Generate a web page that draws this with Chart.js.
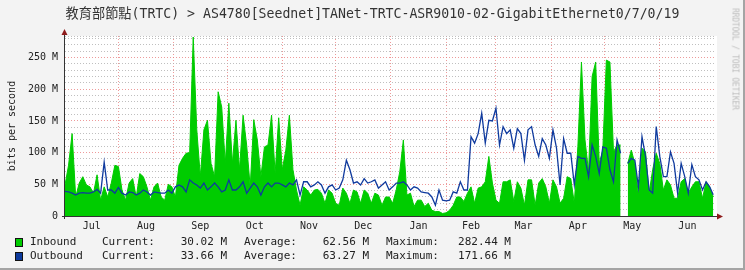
<!DOCTYPE html>
<html>
<head>
<meta charset="utf-8">
<script src="https://cdn.jsdelivr.net/npm/chart.js@4.4.1/dist/chart.umd.min.js"></script>
<style>
  html, body { margin: 0; padding: 0; }
  body { width: 745px; height: 270px; background: #f3f3f3; position: relative; overflow: hidden;
         font-family: "DejaVu Sans Mono", monospace; color: #222; }
  .frame { position: absolute; left: 0; top: 0; width: 743px; height: 268px;
           border-right: 2px solid #a4a4a4; border-bottom: 2px solid #a4a4a4; }
  #chart { position: absolute; left: 0; top: 0; }
  .title { position: absolute; left: 0; top: 6px; width: 745px; text-align: center; font-size: 13.2px;
           line-height: 16px; font-family: "DejaVu Sans Mono", "Noto Sans CJK TC", monospace; color: #333; }
  .ylabel { position: absolute; left: 11px; top: 126px; font-size: 10px; white-space: nowrap;
            transform: translate(-50%, -50%) rotate(-90deg); }
  .mark { position: absolute; left: 735px; top: 59px; font-size: 8px; color: #bdbdbd; white-space: nowrap;
          transform: translate(-50%, -50%) rotate(90deg); letter-spacing: -0.2px; }
  .lg { position: absolute; font-size: 11px; line-height: 12px; white-space: nowrap; }
  .num { text-align: right; }
  .box { position: absolute; width: 6px; height: 7px; border: 1px solid #111; }
</style>
</head>
<body>
<div class="frame"></div>
<canvas id="chart" width="745" height="270"></canvas>
<div class="title">教育部節點(TRTC) &gt; AS4780[Seednet]TANet-TRTC-ASR9010-02-GigabitEthernet0/7/0/19</div>
<div class="ylabel">bits per second</div>
<div class="mark">RRDTOOL / TOBI OETIKER</div>
<div id="legend"></div>
<script>
// one sample every 2 days, starting early July; values in Mbit/s
const stepDays = 2;
const inbound = [
  49, 80, 130, 30, 52, 62, 49, 46, 36, 65, 25, 46, 30, 52, 80, 78, 41, 25, 52, 59,
  30, 67, 62, 46, 25, 46, 52, 30, 25, 50, 46, 30, 80, 91, 99, 100, 282.44, 136, 62, 136,
  151, 83, 62, 196, 172, 83, 178, 83, 151, 73, 159, 112, 46, 152, 120, 62, 109, 112, 159, 67,
  155, 73, 104, 159, 73, 41, 17, 46, 41, 33, 41, 42, 36, 20, 41, 36, 20, 17, 44, 36,
  20, 41, 38, 20, 41, 36, 20, 36, 33, 17, 30, 30, 20, 41, 70, 120, 33, 36, 15, 25,
  25, 15, 20, 9, 7, 7, 4, 5, 9, 17, 30, 30, 23, 36, 46, 20, 44, 46, 54, 94,
  52, 25, 20, 54, 54, 57, 23, 54, 44, 17, 57, 57, 17, 52, 59, 46, 20, 57, 46, 20,
  28, 62, 59, 20, 110, 243, 120, 70, 220, 243, 83, 104, 246, 243, 101, 112, 112, null, 83, 104,
  83, 33, 107, 101, 36, 73, 99, 83, 41, 57, 49, 28, 28, 54, 59, 36, 46, 54, 54, 28,
  54, 46, 30.02
];
const outbound = [
  39, 38, 36, 33, 36, 37, 36, 36, 38, 42, 36, 85, 41, 41, 36, 45, 36, 33, 38, 37,
  33, 36, 41, 38, 33, 38, 37, 36, 36, 41, 36, 46, 49, 46, 38, 57, 52, 49, 44, 52,
  41, 46, 52, 46, 38, 41, 57, 41, 41, 46, 54, 36, 44, 52, 46, 33, 46, 52, 46, 52,
  52, 49, 46, 52, 49, 57, 33, 54, 54, 46, 49, 54, 49, 36, 46, 49, 41, 44, 57, 88,
  73, 52, 54, 49, 59, 52, 54, 57, 44, 49, 54, 41, 46, 52, 52, 54, 49, 41, 46, 44,
  38, 37, 36, 30, 17, 41, 25, 24, 25, 38, 36, 54, 41, 41, 125, 115, 130, 162, 115, 151,
  150, 170, 112, 141, 130, 136, 107, 138, 130, 88, 136, 141, 112, 94, 122, 112, 91, 136, 107, 49,
  122, 99, 99, 49, 94, 91, 91, 62, 112, 94, 67, 109, 107, 73, 54, 120, 99, null, 83, 91,
  88, 46, 125, 94, 41, 36, 141, 94, 62, 62, 101, 83, 36, 83, 62, 36, 81, 62, 57, 41,
  54, 46, 33.66
];
const monthLabels = ['Jul', 'Aug', 'Sep', 'Oct', 'Nov', 'Dec', 'Jan', 'Feb', 'Mar', 'Apr', 'May', 'Jun'];
const monthStarts = [30, 61, 91, 122, 152, 183, 214, 242, 273, 303, 334];
const totalDays = 365;
const yTicks = [0, 50, 100, 150, 200, 250];

const legendRows = [
  { name: 'Inbound', color: '#00cc00', cur: '30.02 M', avg: '62.56 M', max: '282.44 M' },
  { name: 'Outbound', color: '#0d3a9c', cur: '33.66 M', avg: '63.27 M', max: '171.66 M' },
];

const bounds = [0, ...monthStarts, totalDays];
const monthMids = monthLabels.map((m, i) => (bounds[i] + bounds[i + 1]) / 2);
const startSet = new Set(monthStarts);
const labelAt = new Map(monthMids.map((v, i) => [v, monthLabels[i]]));

const toPoints = (arr) => arr.map((v, i) => ({ x: i * stepDays, y: v }));

const frame = {
  id: 'frame',
  beforeDraw(chart) {
    const { ctx, chartArea: a } = chart;
    ctx.save();
    ctx.fillStyle = '#ffffff';
    ctx.fillRect(a.left, a.top, a.right - a.left + 2, a.bottom - a.top);
    ctx.restore();
  },
  afterDraw(chart) {
    const { ctx, chartArea: a } = chart;
    ctx.save();
    ctx.strokeStyle = '#333';
    ctx.lineWidth = 1;
    ctx.beginPath();
    ctx.moveTo(a.left - 3, a.bottom + 0.5);
    ctx.lineTo(a.right + 3, a.bottom + 0.5);
    ctx.moveTo(a.left - 0.5, a.bottom + 3);
    ctx.lineTo(a.left - 0.5, a.top - 4);
    ctx.stroke();
    ctx.fillStyle = '#8e1b1b';
    ctx.beginPath();
    ctx.moveTo(a.left - 3.5, a.top - 1);
    ctx.lineTo(a.left + 2.5, a.top - 1);
    ctx.lineTo(a.left - 0.5, a.top - 7);
    ctx.closePath();
    ctx.fill();
    ctx.beginPath();
    ctx.moveTo(a.right + 2, a.bottom - 2.5);
    ctx.lineTo(a.right + 2, a.bottom + 3.5);
    ctx.lineTo(a.right + 8, a.bottom + 0.5);
    ctx.closePath();
    ctx.fill();
    ctx.restore();
  },
};

new Chart(document.getElementById('chart'), {
  type: 'line',
  data: {
    datasets: [
      {
        label: 'Outbound',
        data: toPoints(outbound),
        borderColor: '#0f3a9e',
        borderWidth: 1.3,
        fill: false,
        pointRadius: 0,
        tension: 0,
        order: 0,
      },
      {
        label: 'Inbound',
        data: toPoints(inbound),
        borderColor: '#00cc00',
        backgroundColor: '#00cc00',
        borderWidth: 1,
        fill: 'origin',
        pointRadius: 0,
        tension: 0,
        order: 1,
      },
    ],
  },
  options: {
    responsive: false,
    animation: false,
    events: [],
    layout: { padding: { top: 36, right: 30, bottom: 36, left: 0 } },
    plugins: { legend: { display: false }, tooltip: { enabled: false } },
    scales: {
      x: {
        type: 'linear',
        min: 0,
        max: totalDays,
        afterBuildTicks: (scale) => {
          scale.ticks = [...monthStarts, ...monthMids].sort((a, b) => a - b).map((v) => ({ value: v }));
        },
        afterFit: (scale) => { scale.height = 18; },
        ticks: {
          autoSkip: false,
          maxRotation: 0,
          padding: 4,
          color: '#222',
          font: { family: 'DejaVu Sans Mono', size: 10 },
          callback: (v) => labelAt.get(v) || '',
        },
        grid: {
          drawTicks: false,
          color: (ctx) => (ctx.tick && startSet.has(ctx.tick.value) ? 'rgba(232,120,120,0.75)' : 'rgba(0,0,0,0)'),
        },
        border: { display: false, dash: [1, 2] },
      },
      y: {
        min: 0,
        max: 284,
        afterBuildTicks: (scale) => {
          const t = [];
          for (let v = 0; v <= 280; v += 10) t.push({ value: v });
          t.push({ value: 284 });
          scale.ticks = t;
        },
        afterFit: (scale) => { scale.width = 65; },
        ticks: {
          autoSkip: false,
          padding: 7,
          color: '#222',
          font: { family: 'DejaVu Sans Mono', size: 10 },
          callback: (v) => (yTicks.includes(v) ? (v === 0 ? '0' : v + ' M') : ''),
        },
        grid: {
          drawTicks: false,
          color: (ctx) => {
            const v = ctx.tick ? ctx.tick.value : -1;
            return yTicks.includes(v) ? 'rgba(232,120,120,0.75)' : 'rgba(175,175,175,0.8)';
          },
        },
        border: { display: false, dash: [1, 2] },
      },
    },
  },
  plugins: [frame],
});

const legend = document.getElementById('legend');
legend.innerHTML = legendRows
  .map((r, i) => {
    const top = 236 + i * 14;
    return `
  <div class="box" style="left:15px;top:${top + 2}px;background:${r.color};"></div>
  <div class="lg" style="left:30px;top:${top}px;">${r.name}</div>
  <div class="lg" style="left:102px;top:${top}px;">Current:</div>
  <div class="lg num" style="left:167px;width:60px;top:${top}px;">${r.cur}</div>
  <div class="lg" style="left:244px;top:${top}px;">Average:</div>
  <div class="lg num" style="left:309px;width:60px;top:${top}px;">${r.avg}</div>
  <div class="lg" style="left:386px;top:${top}px;">Maximum:</div>
  <div class="lg num" style="left:441px;width:70px;top:${top}px;">${r.max}</div>`;
  })
  .join('');
</script>
</body>
</html>
